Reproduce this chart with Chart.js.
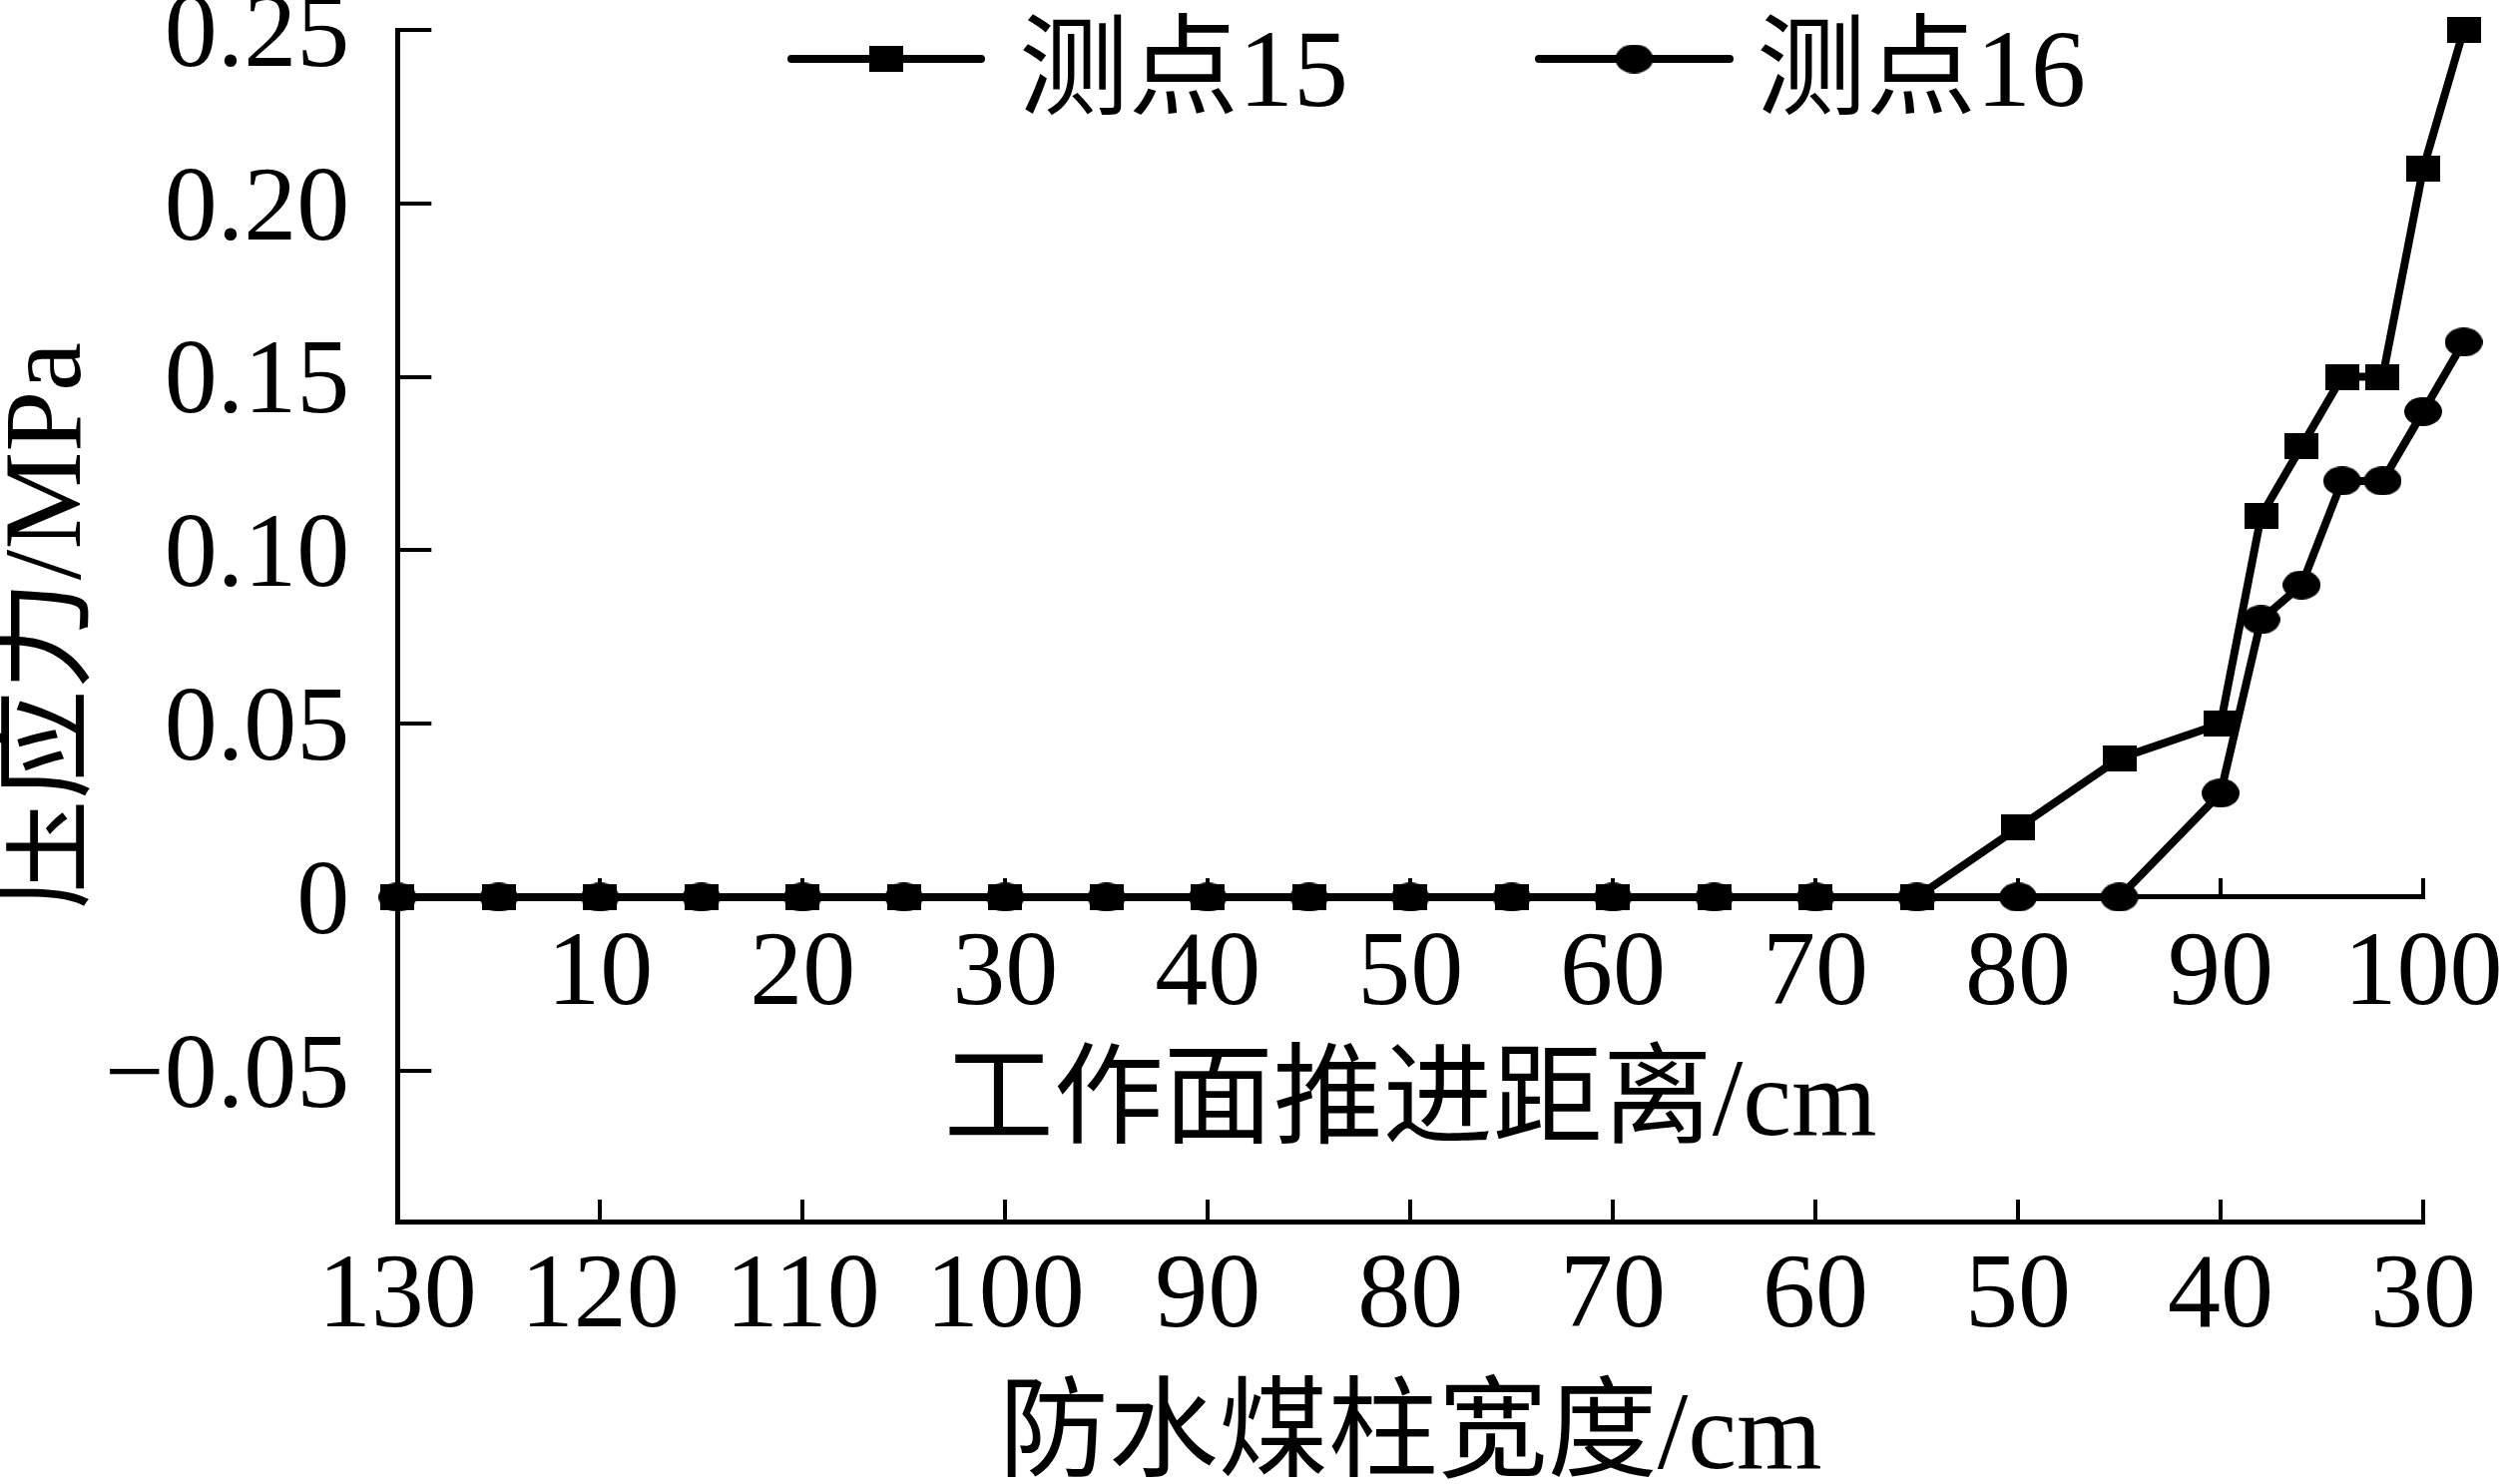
<!DOCTYPE html>
<html>
<head>
<meta charset="utf-8">
<script src="https://cdn.jsdelivr.net/npm/chart.js@4.4.1/dist/chart.umd.min.js"></script>
<style>
html,body{margin:0;padding:0;background:#fff;}
#wrap{width:2518px;height:1487px;}
</style>
</head>
<body>
<div id="wrap"><canvas id="c" width="2518" height="1487"></canvas></div>
<script>
// ---- data ----
const distance = [0,5,10,15,20,25,30,35,40,45,50,55,60,65,70,75,80,85,90,92,94,96,98,100,102];
const point15  = [0,0,0,0,0,0,0,0,0,0,0,0,0,0,0,0,0.02,0.04,0.05,0.11,0.13,0.15,0.15,0.21,0.25];
const point16  = [0,0,0,0,0,0,0,0,0,0,0,0,0,0,0,0,0,0,0.03,0.08,0.09,0.12,0.12,0.14,0.16];
const seriesNames = ['测点15', '测点16'];
const yTickLabels = ['\u22120.05', '0', '0.05', '0.10', '0.15', '0.20', '0.25'];
const distanceTickLabels = ['', '10', '20', '30', '40', '50', '60', '70', '80', '90', '100'];
const widthTickLabels = ['130', '120', '110', '100', '90', '80', '70', '60', '50', '40', '30'];
const yTitle = '压应力/MPa';
const distanceTitle = '工作面推进距离/cm';
const widthTitle = '防水煤柱宽度/cm';

const FONT = "'Liberation Serif', 'Noto Sans CJK SC', serif";
Chart.defaults.font.family = FONT;
Chart.defaults.color = '#000';

function makeRect(w, h) {
  const c = document.createElement('canvas'); c.width = w; c.height = h;
  const g = c.getContext('2d'); g.fillStyle = '#000'; g.fillRect(0, 0, w, h);
  return c;
}
function makeEllipse(w, h) {
  const c = document.createElement('canvas'); c.width = w; c.height = h;
  const g = c.getContext('2d'); g.fillStyle = '#000';
  g.beginPath(); g.ellipse(w / 2, h / 2, w / 2, h / 2, 0, 0, Math.PI * 2); g.fill();
  return c;
}
const rectImg = makeRect(34, 26);
const ellImg = makeEllipse(38, 29);

const legendPlugin = {
  id: 'refLegend',
  afterDraw(chart) {
    const ctx = chart.ctx;
    const items = [
      {x0: 793, x1: 983, tx: 1021, img: rectImg},
      {x0: 1542, x1: 1733, tx: 1760, img: ellImg}
    ];
    const y = 59;
    chart.data.datasets.forEach((ds, i) => {
      const it = items[i];
      ctx.save();
      ctx.strokeStyle = '#000'; ctx.lineWidth = 8; ctx.lineCap = 'round';
      ctx.beginPath(); ctx.moveTo(it.x0, y); ctx.lineTo(it.x1, y); ctx.stroke();
      const cx = (it.x0 + it.x1) / 2;
      ctx.drawImage(it.img, cx - it.img.width / 2, y - it.img.height / 2);
      ctx.font = '110px ' + FONT; ctx.fillStyle = '#000';
      ctx.textBaseline = 'alphabetic'; ctx.textAlign = 'left';
      ctx.fillText(ds.label, it.tx, 106);
      ctx.restore();
    });
  }
};

const gridOpts = (tl) => ({
  display: true, drawOnChartArea: false, drawTicks: true,
  tickLength: tl, tickWidth: 4, tickColor: '#000', lineWidth: 4, color: '#000'
});
const borderOpts = {display: true, color: '#000', width: 5};
const noSidePad = (s) => { s.paddingLeft = 0; s.paddingRight = 0; };

new Chart(document.getElementById('c'), {
  type: 'line',
  data: {
    datasets: [
      {
        label: seriesNames[0],
        data: distance.map((d, i) => ({x: d, y: point15[i]})),
        borderColor: '#000', backgroundColor: '#000', borderWidth: 8,
        pointStyle: rectImg, pointRadius: 50, pointHoverRadius: 50, pointBorderWidth: 0,
        tension: 0, clip: false, xAxisID: 'x', yAxisID: 'y'
      },
      {
        label: seriesNames[1],
        data: distance.map((d, i) => ({x: d, y: point16[i]})),
        borderColor: '#000', backgroundColor: '#000', borderWidth: 8,
        pointStyle: ellImg, pointRadius: 50, pointHoverRadius: 50, pointBorderWidth: 0,
        tension: 0, clip: false, xAxisID: 'x', yAxisID: 'y'
      }
    ]
  },
  options: {
    responsive: false, animation: false, devicePixelRatio: 1, events: [],
    layout: {autoPadding: false, padding: {top: 30, right: 90, bottom: 0, left: 0}},
    plugins: {legend: {display: false}, tooltip: {enabled: false}},
    scales: {
      x: {
        type: 'linear', position: 'bottom', min: 0,
        afterDataLimits: (s) => { s.max = 100; },
        afterFit: noSidePad,
        ticks: {stepSize: 10, autoSkip: false, maxRotation: 0, font: {size: 106, lineHeight: 1}, padding: 46,
                callback: (v, i) => widthTickLabels[i]},
        grid: gridOpts(-22), border: borderOpts,
        title: {display: true, text: widthTitle, font: {size: 110, lineHeight: 1}, padding: {top: -13, bottom: -10}}
      },
      x2: {
        type: 'linear', axis: 'x', position: {y: 0}, min: 0, max: 100,
        afterFit: noSidePad,
        ticks: {stepSize: 10, autoSkip: false, maxRotation: 0, font: {size: 106, lineHeight: 1}, padding: 47,
                callback: (v, i) => distanceTickLabels[i]},
        grid: gridOpts(-21), border: borderOpts,
        title: {display: true, text: distanceTitle, font: {size: 110, lineHeight: 1}, padding: {top: -25, bottom: 0}}
      },
      y: {
        type: 'linear', position: 'left', min: -0.0935, max: 0.25,
        afterFit: (s) => { s.paddingTop = 26; s.paddingBottom = 26; },
        ticks: {stepSize: 0.05, includeBounds: false, font: {size: 106, lineHeight: '16px'}, padding: 82,
                callback: (v, i) => ['', yTickLabels[i]]},
        grid: gridOpts(-34), border: borderOpts,
        title: {display: true, text: yTitle, font: {size: 110, lineHeight: 1}, padding: {top: -4, bottom: -83}}
      }
    }
  },
  plugins: [legendPlugin]
});
</script>
</body>
</html>
